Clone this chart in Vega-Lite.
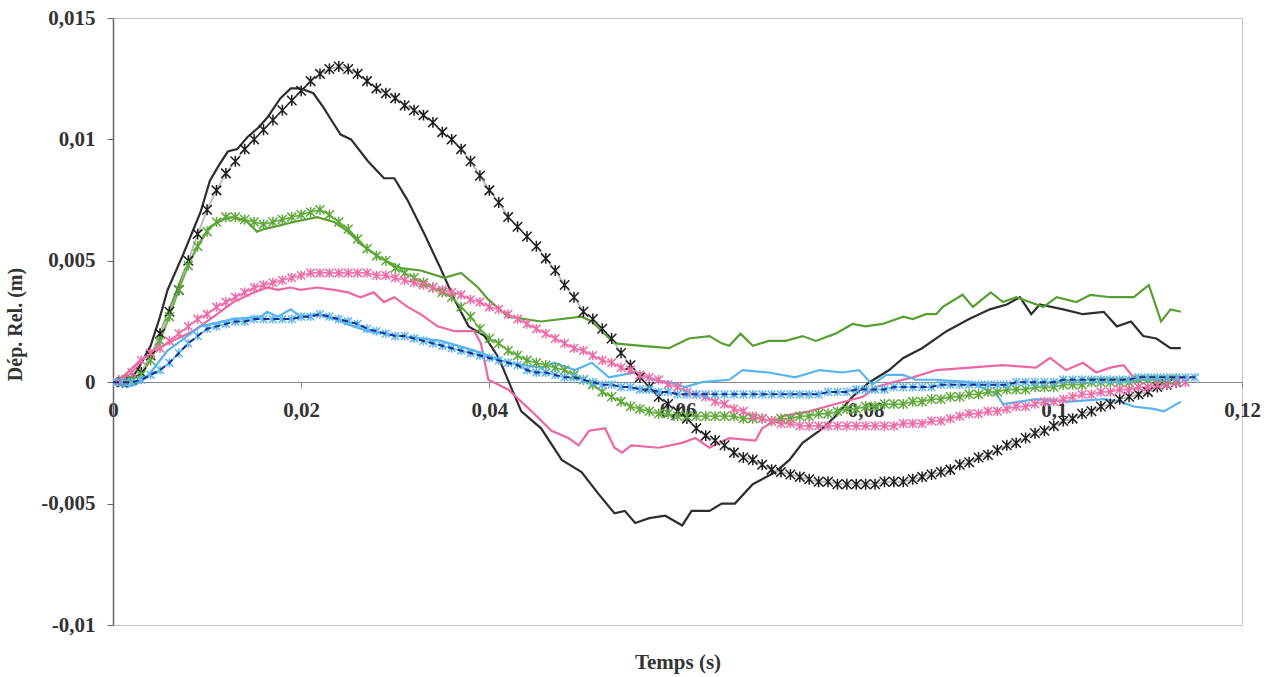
{
"$schema": "https://vega.github.io/schema/vega-lite/v6.json",
"width": 1129, "height": 607,
"autosize": {"type": "none"},
"padding": {"left": 113, "top": 18, "right": 38, "bottom": 52},
"background": "white",
"config": {
 "font": "Liberation Serif",
 "view": {"stroke": "#c4c4c4", "strokeWidth": 1},
 "axis": {"labelFont": "Liberation Serif", "labelFontWeight": "bold", "labelFontSize": 21, "labelColor": "#333", "titleFont": "Liberation Serif", "titleFontWeight": "bold", "titleFontSize": 21, "titleColor": "#333", "grid": false}
},
"datasets": {
"exp": [
{"s":"noir","t":0,"v":0},{"s":"noir","t":0.001,"v":0.0001},{"s":"noir","t":0.002,"v":0.0002},{"s":"noir","t":0.0026,"v":0.0005},{"s":"noir","t":0.0033,"v":0.001},{"s":"noir","t":0.004,"v":0.0015},{"s":"noir","t":0.005,"v":0.0027},{"s":"noir","t":0.0058,"v":0.0038},{"s":"noir","t":0.0075,"v":0.0053},{"s":"noir","t":0.0093,"v":0.007},{"s":"noir","t":0.0103,"v":0.0083},{"s":"noir","t":0.0112,"v":0.0089},{"s":"noir","t":0.0122,"v":0.0095},{"s":"noir","t":0.0132,"v":0.0096},{"s":"noir","t":0.0143,"v":0.0101},{"s":"noir","t":0.0155,"v":0.0105},{"s":"noir","t":0.0164,"v":0.0109},{"s":"noir","t":0.0178,"v":0.0117},{"s":"noir","t":0.0189,"v":0.0121},{"s":"noir","t":0.0199,"v":0.0121},{"s":"noir","t":0.0206,"v":0.012},{"s":"noir","t":0.0213,"v":0.0119},{"s":"noir","t":0.0224,"v":0.0113},{"s":"noir","t":0.0232,"v":0.0108},{"s":"noir","t":0.0242,"v":0.0102},{"s":"noir","t":0.0253,"v":0.01},{"s":"noir","t":0.0271,"v":0.0091},{"s":"noir","t":0.0288,"v":0.0084},{"s":"noir","t":0.0299,"v":0.0084},{"s":"noir","t":0.0313,"v":0.0075},{"s":"noir","t":0.0331,"v":0.0061},{"s":"noir","t":0.0348,"v":0.0047},{"s":"noir","t":0.0363,"v":0.0034},{"s":"noir","t":0.0378,"v":0.0023},{"s":"noir","t":0.0395,"v":0.0019},{"s":"noir","t":0.041,"v":0.001},{"s":"noir","t":0.0423,"v":-0.0002},{"s":"noir","t":0.0434,"v":-0.0012},{"s":"noir","t":0.0455,"v":-0.0019},{"s":"noir","t":0.0477,"v":-0.0032},{"s":"noir","t":0.0498,"v":-0.0037},{"s":"noir","t":0.0516,"v":-0.0046},{"s":"noir","t":0.0533,"v":-0.0054},{"s":"noir","t":0.0544,"v":-0.0053},{"s":"noir","t":0.0555,"v":-0.0058},{"s":"noir","t":0.057,"v":-0.0056},{"s":"noir","t":0.0587,"v":-0.0055},{"s":"noir","t":0.0605,"v":-0.0059},{"s":"noir","t":0.0615,"v":-0.0053},{"s":"noir","t":0.0634,"v":-0.0053},{"s":"noir","t":0.0647,"v":-0.005},{"s":"noir","t":0.0661,"v":-0.005},{"s":"noir","t":0.068,"v":-0.0042},{"s":"noir","t":0.0704,"v":-0.0037},{"s":"noir","t":0.0719,"v":-0.0032},{"s":"noir","t":0.0733,"v":-0.0025},{"s":"noir","t":0.0751,"v":-0.002},{"s":"noir","t":0.0768,"v":-0.0014},{"s":"noir","t":0.0786,"v":-0.0006},{"s":"noir","t":0.0804,"v":0},{"s":"noir","t":0.0825,"v":0.0005},{"s":"noir","t":0.084,"v":0.001},{"s":"noir","t":0.086,"v":0.0014},{"s":"noir","t":0.0886,"v":0.0021},{"s":"noir","t":0.091,"v":0.0026},{"s":"noir","t":0.0932,"v":0.003},{"s":"noir","t":0.095,"v":0.0032},{"s":"noir","t":0.0964,"v":0.0035},{"s":"noir","t":0.0976,"v":0.0028},{"s":"noir","t":0.0985,"v":0.0032},{"s":"noir","t":0.101,"v":0.003},{"s":"noir","t":0.1031,"v":0.0028},{"s":"noir","t":0.1053,"v":0.0029},{"s":"noir","t":0.1067,"v":0.0023},{"s":"noir","t":0.1082,"v":0.0025},{"s":"noir","t":0.1095,"v":0.0019},{"s":"noir","t":0.1109,"v":0.0018},{"s":"noir","t":0.1124,"v":0.0014},{"s":"noir","t":0.1135,"v":0.0014},
{"s":"vert","t":0,"v":0},{"s":"vert","t":0.001,"v":0.0001},{"s":"vert","t":0.002,"v":0.0002},{"s":"vert","t":0.003,"v":0.0003},{"s":"vert","t":0.004,"v":0.001},{"s":"vert","t":0.0058,"v":0.0028},{"s":"vert","t":0.0075,"v":0.0045},{"s":"vert","t":0.0086,"v":0.0053},{"s":"vert","t":0.0093,"v":0.0058},{"s":"vert","t":0.0103,"v":0.0064},{"s":"vert","t":0.0117,"v":0.0067},{"s":"vert","t":0.0128,"v":0.0068},{"s":"vert","t":0.0143,"v":0.0066},{"s":"vert","t":0.0153,"v":0.0062},{"s":"vert","t":0.016,"v":0.0063},{"s":"vert","t":0.0171,"v":0.0064},{"s":"vert","t":0.0192,"v":0.0066},{"s":"vert","t":0.0217,"v":0.0068},{"s":"vert","t":0.0235,"v":0.0066},{"s":"vert","t":0.025,"v":0.0062},{"s":"vert","t":0.0263,"v":0.0057},{"s":"vert","t":0.0285,"v":0.0051},{"s":"vert","t":0.0306,"v":0.0047},{"s":"vert","t":0.0327,"v":0.0046},{"s":"vert","t":0.0352,"v":0.0043},{"s":"vert","t":0.037,"v":0.0045},{"s":"vert","t":0.0388,"v":0.0039},{"s":"vert","t":0.0399,"v":0.0034},{"s":"vert","t":0.042,"v":0.0027},{"s":"vert","t":0.0455,"v":0.0025},{"s":"vert","t":0.0498,"v":0.0027},{"s":"vert","t":0.0509,"v":0.0025},{"s":"vert","t":0.0533,"v":0.0016},{"s":"vert","t":0.0562,"v":0.0015},{"s":"vert","t":0.0591,"v":0.0014},{"s":"vert","t":0.0612,"v":0.0018},{"s":"vert","t":0.0634,"v":0.0019},{"s":"vert","t":0.0647,"v":0.0016},{"s":"vert","t":0.0655,"v":0.0015},{"s":"vert","t":0.0667,"v":0.002},{"s":"vert","t":0.068,"v":0.0015},{"s":"vert","t":0.0697,"v":0.0017},{"s":"vert","t":0.0715,"v":0.0017},{"s":"vert","t":0.0733,"v":0.0019},{"s":"vert","t":0.0747,"v":0.0017},{"s":"vert","t":0.0768,"v":0.002},{"s":"vert","t":0.0786,"v":0.0024},{"s":"vert","t":0.08,"v":0.0023},{"s":"vert","t":0.0818,"v":0.0024},{"s":"vert","t":0.084,"v":0.0027},{"s":"vert","t":0.085,"v":0.0026},{"s":"vert","t":0.0864,"v":0.0028},{"s":"vert","t":0.0875,"v":0.0028},{"s":"vert","t":0.0882,"v":0.0031},{"s":"vert","t":0.0903,"v":0.0036},{"s":"vert","t":0.0914,"v":0.0031},{"s":"vert","t":0.0933,"v":0.0037},{"s":"vert","t":0.0946,"v":0.0033},{"s":"vert","t":0.096,"v":0.0035},{"s":"vert","t":0.0989,"v":0.0031},{"s":"vert","t":0.1003,"v":0.0035},{"s":"vert","t":0.1024,"v":0.0033},{"s":"vert","t":0.1039,"v":0.0036},{"s":"vert","t":0.106,"v":0.0035},{"s":"vert","t":0.1085,"v":0.0035},{"s":"vert","t":0.1101,"v":0.004},{"s":"vert","t":0.1114,"v":0.0025},{"s":"vert","t":0.1124,"v":0.003},{"s":"vert","t":0.1135,"v":0.0029},
{"s":"rose","t":0,"v":0},{"s":"rose","t":0.001,"v":0.0002},{"s":"rose","t":0.0029,"v":0.0009},{"s":"rose","t":0.0058,"v":0.0016},{"s":"rose","t":0.0085,"v":0.0021},{"s":"rose","t":0.0107,"v":0.0027},{"s":"rose","t":0.0128,"v":0.0033},{"s":"rose","t":0.015,"v":0.0037},{"s":"rose","t":0.0164,"v":0.0039},{"s":"rose","t":0.0175,"v":0.0038},{"s":"rose","t":0.0189,"v":0.0039},{"s":"rose","t":0.0199,"v":0.0038},{"s":"rose","t":0.0217,"v":0.0039},{"s":"rose","t":0.0235,"v":0.0038},{"s":"rose","t":0.025,"v":0.0037},{"s":"rose","t":0.0263,"v":0.0035},{"s":"rose","t":0.0277,"v":0.0037},{"s":"rose","t":0.0288,"v":0.0033},{"s":"rose","t":0.0299,"v":0.0035},{"s":"rose","t":0.0313,"v":0.0031},{"s":"rose","t":0.0327,"v":0.0028},{"s":"rose","t":0.0345,"v":0.0023},{"s":"rose","t":0.0363,"v":0.0021},{"s":"rose","t":0.0384,"v":0.0021},{"s":"rose","t":0.0391,"v":0.0016},{"s":"rose","t":0.0399,"v":0.0001},{"s":"rose","t":0.042,"v":-0.0003},{"s":"rose","t":0.0445,"v":-0.0012},{"s":"rose","t":0.0466,"v":-0.002},{"s":"rose","t":0.0484,"v":-0.0023},{"s":"rose","t":0.0495,"v":-0.0026},{"s":"rose","t":0.0506,"v":-0.002},{"s":"rose","t":0.0523,"v":-0.0019},{"s":"rose","t":0.0533,"v":-0.0027},{"s":"rose","t":0.0541,"v":-0.0029},{"s":"rose","t":0.0551,"v":-0.0026},{"s":"rose","t":0.058,"v":-0.0027},{"s":"rose","t":0.0605,"v":-0.0025},{"s":"rose","t":0.0619,"v":-0.0023},{"s":"rose","t":0.0634,"v":-0.0027},{"s":"rose","t":0.0644,"v":-0.0025},{"s":"rose","t":0.0655,"v":-0.0023},{"s":"rose","t":0.0683,"v":-0.0024},{"s":"rose","t":0.069,"v":-0.0019},{"s":"rose","t":0.0711,"v":-0.0014},{"s":"rose","t":0.074,"v":-0.0012},{"s":"rose","t":0.0768,"v":-0.0009},{"s":"rose","t":0.0797,"v":-0.0006},{"s":"rose","t":0.0811,"v":-0.0002},{"s":"rose","t":0.0829,"v":0},{"s":"rose","t":0.085,"v":0.0002},{"s":"rose","t":0.0875,"v":0.0005},{"s":"rose","t":0.0911,"v":0.0006},{"s":"rose","t":0.0946,"v":0.0007},{"s":"rose","t":0.0981,"v":0.0006},{"s":"rose","t":0.0996,"v":0.001},{"s":"rose","t":0.1013,"v":0.0005},{"s":"rose","t":0.1031,"v":0.0008},{"s":"rose","t":0.1045,"v":0.0004},{"s":"rose","t":0.106,"v":0.0006},{"s":"rose","t":0.1074,"v":0.0007},{"s":"rose","t":0.1085,"v":0.0002},
{"s":"bleu","t":0,"v":0},{"s":"bleu","t":0.0015,"v":-0.0002},{"s":"bleu","t":0.0029,"v":0},{"s":"bleu","t":0.004,"v":0.0004},{"s":"bleu","t":0.0058,"v":0.0013},{"s":"bleu","t":0.0079,"v":0.0019},{"s":"bleu","t":0.0093,"v":0.0023},{"s":"bleu","t":0.0128,"v":0.0026},{"s":"bleu","t":0.0157,"v":0.0027},{"s":"bleu","t":0.0164,"v":0.0029},{"s":"bleu","t":0.0175,"v":0.0027},{"s":"bleu","t":0.0189,"v":0.003},{"s":"bleu","t":0.0199,"v":0.0027},{"s":"bleu","t":0.0217,"v":0.0028},{"s":"bleu","t":0.0235,"v":0.0026},{"s":"bleu","t":0.0256,"v":0.0023},{"s":"bleu","t":0.0271,"v":0.0021},{"s":"bleu","t":0.0306,"v":0.0019},{"s":"bleu","t":0.0349,"v":0.0017},{"s":"bleu","t":0.0384,"v":0.0013},{"s":"bleu","t":0.042,"v":0.0008},{"s":"bleu","t":0.0455,"v":0.0006},{"s":"bleu","t":0.0469,"v":0.0008},{"s":"bleu","t":0.0491,"v":0.0005},{"s":"bleu","t":0.0509,"v":0.0008},{"s":"bleu","t":0.0527,"v":0.0002},{"s":"bleu","t":0.0541,"v":0.0003},{"s":"bleu","t":0.0555,"v":0.0004},{"s":"bleu","t":0.0573,"v":0.0001},{"s":"bleu","t":0.059,"v":0},{"s":"bleu","t":0.0608,"v":-0.0002},{"s":"bleu","t":0.0626,"v":0},{"s":"bleu","t":0.0655,"v":0.0001},{"s":"bleu","t":0.0669,"v":0.0005},{"s":"bleu","t":0.0697,"v":0.0004},{"s":"bleu","t":0.0725,"v":0.0002},{"s":"bleu","t":0.0751,"v":0.0005},{"s":"bleu","t":0.0775,"v":0.0004},{"s":"bleu","t":0.0793,"v":0.0005},{"s":"bleu","t":0.0807,"v":-0.0001},{"s":"bleu","t":0.0822,"v":0.0003},{"s":"bleu","t":0.084,"v":0.0003},{"s":"bleu","t":0.0853,"v":0.0001},{"s":"bleu","t":0.0875,"v":0.0001},{"s":"bleu","t":0.0911,"v":0},{"s":"bleu","t":0.0939,"v":-0.0005},{"s":"bleu","t":0.0946,"v":-0.0009},{"s":"bleu","t":0.0981,"v":-0.0007},{"s":"bleu","t":0.1017,"v":-0.0008},{"s":"bleu","t":0.1053,"v":-0.0007},{"s":"bleu","t":0.107,"v":-0.0008},{"s":"bleu","t":0.1085,"v":-0.001},{"s":"bleu","t":0.1106,"v":-0.0011},{"s":"bleu","t":0.1117,"v":-0.0012},{"s":"bleu","t":0.1135,"v":-0.0008}
],
"mod": [
{"s":"noir","t":0,"v":0},{"s":"noir","t":0.001,"v":0},{"s":"noir","t":0.002,"v":0.0001},{"s":"noir","t":0.003,"v":0.0004},{"s":"noir","t":0.004,"v":0.0011},{"s":"noir","t":0.005,"v":0.002},{"s":"noir","t":0.006,"v":0.0029},{"s":"noir","t":0.007,"v":0.0038},{"s":"noir","t":0.008,"v":0.005},{"s":"noir","t":0.009,"v":0.0061},{"s":"noir","t":0.01,"v":0.0071},{"s":"noir","t":0.011,"v":0.0079},{"s":"noir","t":0.012,"v":0.0086},{"s":"noir","t":0.013,"v":0.0091},{"s":"noir","t":0.014,"v":0.0096},{"s":"noir","t":0.015,"v":0.01},{"s":"noir","t":0.016,"v":0.0104},{"s":"noir","t":0.017,"v":0.0108},{"s":"noir","t":0.018,"v":0.0112},{"s":"noir","t":0.019,"v":0.0116},{"s":"noir","t":0.02,"v":0.012},{"s":"noir","t":0.021,"v":0.0124},{"s":"noir","t":0.022,"v":0.0127},{"s":"noir","t":0.023,"v":0.0129},{"s":"noir","t":0.024,"v":0.013},{"s":"noir","t":0.025,"v":0.0129},{"s":"noir","t":0.026,"v":0.0127},{"s":"noir","t":0.027,"v":0.0124},{"s":"noir","t":0.028,"v":0.0121},{"s":"noir","t":0.029,"v":0.0119},{"s":"noir","t":0.03,"v":0.0117},{"s":"noir","t":0.031,"v":0.0114},{"s":"noir","t":0.032,"v":0.0112},{"s":"noir","t":0.033,"v":0.011},{"s":"noir","t":0.034,"v":0.0107},{"s":"noir","t":0.035,"v":0.0103},{"s":"noir","t":0.036,"v":0.01},{"s":"noir","t":0.037,"v":0.0096},{"s":"noir","t":0.038,"v":0.0091},{"s":"noir","t":0.039,"v":0.0085},{"s":"noir","t":0.04,"v":0.0079},{"s":"noir","t":0.041,"v":0.0074},{"s":"noir","t":0.042,"v":0.0068},{"s":"noir","t":0.043,"v":0.0064},{"s":"noir","t":0.044,"v":0.006},{"s":"noir","t":0.045,"v":0.0056},{"s":"noir","t":0.046,"v":0.0051},{"s":"noir","t":0.047,"v":0.0046},{"s":"noir","t":0.048,"v":0.004},{"s":"noir","t":0.049,"v":0.0035},{"s":"noir","t":0.05,"v":0.0029},{"s":"noir","t":0.051,"v":0.0026},{"s":"noir","t":0.052,"v":0.0022},{"s":"noir","t":0.053,"v":0.0018},{"s":"noir","t":0.054,"v":0.0012},{"s":"noir","t":0.055,"v":0.0007},{"s":"noir","t":0.056,"v":0.0002},{"s":"noir","t":0.057,"v":-0.0002},{"s":"noir","t":0.058,"v":-0.0006},{"s":"noir","t":0.059,"v":-0.0009},{"s":"noir","t":0.06,"v":-0.0012},{"s":"noir","t":0.061,"v":-0.0015},{"s":"noir","t":0.062,"v":-0.0019},{"s":"noir","t":0.063,"v":-0.0022},{"s":"noir","t":0.064,"v":-0.0024},{"s":"noir","t":0.065,"v":-0.0026},{"s":"noir","t":0.066,"v":-0.0029},{"s":"noir","t":0.067,"v":-0.0031},{"s":"noir","t":0.068,"v":-0.0032},{"s":"noir","t":0.069,"v":-0.0034},{"s":"noir","t":0.07,"v":-0.0036},{"s":"noir","t":0.071,"v":-0.0037},{"s":"noir","t":0.072,"v":-0.0038},{"s":"noir","t":0.073,"v":-0.0039},{"s":"noir","t":0.074,"v":-0.004},{"s":"noir","t":0.075,"v":-0.0041},{"s":"noir","t":0.076,"v":-0.0041},{"s":"noir","t":0.077,"v":-0.0042},{"s":"noir","t":0.078,"v":-0.0042},{"s":"noir","t":0.079,"v":-0.0042},{"s":"noir","t":0.08,"v":-0.0042},{"s":"noir","t":0.081,"v":-0.0042},{"s":"noir","t":0.082,"v":-0.0041},{"s":"noir","t":0.083,"v":-0.0041},{"s":"noir","t":0.084,"v":-0.0041},{"s":"noir","t":0.085,"v":-0.004},{"s":"noir","t":0.086,"v":-0.0039},{"s":"noir","t":0.087,"v":-0.0038},{"s":"noir","t":0.088,"v":-0.0037},{"s":"noir","t":0.089,"v":-0.0036},{"s":"noir","t":0.09,"v":-0.0034},{"s":"noir","t":0.091,"v":-0.0033},{"s":"noir","t":0.092,"v":-0.0031},{"s":"noir","t":0.093,"v":-0.003},{"s":"noir","t":0.094,"v":-0.0028},{"s":"noir","t":0.095,"v":-0.0026},{"s":"noir","t":0.096,"v":-0.0025},{"s":"noir","t":0.097,"v":-0.0023},{"s":"noir","t":0.098,"v":-0.0021},{"s":"noir","t":0.099,"v":-0.002},{"s":"noir","t":0.1,"v":-0.0018},{"s":"noir","t":0.101,"v":-0.0016},{"s":"noir","t":0.102,"v":-0.0015},{"s":"noir","t":0.103,"v":-0.0013},{"s":"noir","t":0.104,"v":-0.0012},{"s":"noir","t":0.105,"v":-0.001},{"s":"noir","t":0.106,"v":-0.0009},{"s":"noir","t":0.107,"v":-0.0007},{"s":"noir","t":0.108,"v":-0.0006},{"s":"noir","t":0.109,"v":-0.0005},{"s":"noir","t":0.11,"v":-0.0004},{"s":"noir","t":0.111,"v":-0.0002},{"s":"noir","t":0.112,"v":-0.0001},{"s":"noir","t":0.113,"v":0},
{"s":"vert","t":0,"v":0},{"s":"vert","t":0.001,"v":0.0001},{"s":"vert","t":0.002,"v":0.0001},{"s":"vert","t":0.003,"v":0.0003},{"s":"vert","t":0.004,"v":0.0009},{"s":"vert","t":0.005,"v":0.0017},{"s":"vert","t":0.006,"v":0.0027},{"s":"vert","t":0.007,"v":0.0038},{"s":"vert","t":0.008,"v":0.0048},{"s":"vert","t":0.009,"v":0.0056},{"s":"vert","t":0.01,"v":0.0062},{"s":"vert","t":0.011,"v":0.0066},{"s":"vert","t":0.012,"v":0.0068},{"s":"vert","t":0.013,"v":0.0068},{"s":"vert","t":0.014,"v":0.0067},{"s":"vert","t":0.015,"v":0.0066},{"s":"vert","t":0.016,"v":0.0065},{"s":"vert","t":0.017,"v":0.0066},{"s":"vert","t":0.018,"v":0.0067},{"s":"vert","t":0.019,"v":0.0068},{"s":"vert","t":0.02,"v":0.0069},{"s":"vert","t":0.021,"v":0.007},{"s":"vert","t":0.022,"v":0.0071},{"s":"vert","t":0.023,"v":0.0069},{"s":"vert","t":0.024,"v":0.0066},{"s":"vert","t":0.025,"v":0.0063},{"s":"vert","t":0.026,"v":0.0059},{"s":"vert","t":0.027,"v":0.0055},{"s":"vert","t":0.028,"v":0.0052},{"s":"vert","t":0.029,"v":0.005},{"s":"vert","t":0.03,"v":0.0047},{"s":"vert","t":0.031,"v":0.0045},{"s":"vert","t":0.032,"v":0.0043},{"s":"vert","t":0.033,"v":0.0041},{"s":"vert","t":0.034,"v":0.0039},{"s":"vert","t":0.035,"v":0.0037},{"s":"vert","t":0.036,"v":0.0035},{"s":"vert","t":0.037,"v":0.0031},{"s":"vert","t":0.038,"v":0.0027},{"s":"vert","t":0.039,"v":0.0022},{"s":"vert","t":0.04,"v":0.0018},{"s":"vert","t":0.041,"v":0.0016},{"s":"vert","t":0.042,"v":0.0013},{"s":"vert","t":0.043,"v":0.0011},{"s":"vert","t":0.044,"v":0.0009},{"s":"vert","t":0.045,"v":0.0008},{"s":"vert","t":0.046,"v":0.0007},{"s":"vert","t":0.047,"v":0.0006},{"s":"vert","t":0.048,"v":0.0005},{"s":"vert","t":0.049,"v":0.0003},{"s":"vert","t":0.05,"v":0.0001},{"s":"vert","t":0.051,"v":-0.0001},{"s":"vert","t":0.052,"v":-0.0004},{"s":"vert","t":0.053,"v":-0.0006},{"s":"vert","t":0.054,"v":-0.0008},{"s":"vert","t":0.055,"v":-0.001},{"s":"vert","t":0.056,"v":-0.0011},{"s":"vert","t":0.057,"v":-0.0012},{"s":"vert","t":0.058,"v":-0.0013},{"s":"vert","t":0.059,"v":-0.0013},{"s":"vert","t":0.06,"v":-0.0014},{"s":"vert","t":0.061,"v":-0.0014},{"s":"vert","t":0.062,"v":-0.0014},{"s":"vert","t":0.063,"v":-0.0014},{"s":"vert","t":0.064,"v":-0.0014},{"s":"vert","t":0.065,"v":-0.0014},{"s":"vert","t":0.066,"v":-0.0014},{"s":"vert","t":0.067,"v":-0.0015},{"s":"vert","t":0.068,"v":-0.0015},{"s":"vert","t":0.069,"v":-0.0015},{"s":"vert","t":0.07,"v":-0.0016},{"s":"vert","t":0.071,"v":-0.0015},{"s":"vert","t":0.072,"v":-0.0015},{"s":"vert","t":0.073,"v":-0.0014},{"s":"vert","t":0.074,"v":-0.0014},{"s":"vert","t":0.075,"v":-0.0013},{"s":"vert","t":0.076,"v":-0.0013},{"s":"vert","t":0.077,"v":-0.0012},{"s":"vert","t":0.078,"v":-0.0011},{"s":"vert","t":0.079,"v":-0.0011},{"s":"vert","t":0.08,"v":-0.001},{"s":"vert","t":0.081,"v":-0.001},{"s":"vert","t":0.082,"v":-0.0009},{"s":"vert","t":0.083,"v":-0.0009},{"s":"vert","t":0.084,"v":-0.0009},{"s":"vert","t":0.085,"v":-0.0008},{"s":"vert","t":0.086,"v":-0.0008},{"s":"vert","t":0.087,"v":-0.0007},{"s":"vert","t":0.088,"v":-0.0007},{"s":"vert","t":0.089,"v":-0.0006},{"s":"vert","t":0.09,"v":-0.0006},{"s":"vert","t":0.091,"v":-0.0005},{"s":"vert","t":0.092,"v":-0.0005},{"s":"vert","t":0.093,"v":-0.0004},{"s":"vert","t":0.094,"v":-0.0004},{"s":"vert","t":0.095,"v":-0.0003},{"s":"vert","t":0.096,"v":-0.0003},{"s":"vert","t":0.097,"v":-0.0003},{"s":"vert","t":0.098,"v":-0.0002},{"s":"vert","t":0.099,"v":-0.0002},{"s":"vert","t":0.1,"v":-0.0002},{"s":"vert","t":0.101,"v":-0.0001},{"s":"vert","t":0.102,"v":-0.0001},{"s":"vert","t":0.103,"v":-0.0001},{"s":"vert","t":0.104,"v":0},{"s":"vert","t":0.105,"v":0},{"s":"vert","t":0.106,"v":0},{"s":"vert","t":0.107,"v":0},{"s":"vert","t":0.108,"v":0},{"s":"vert","t":0.109,"v":0.0001},{"s":"vert","t":0.11,"v":0.0001},{"s":"vert","t":0.111,"v":0.0001},{"s":"vert","t":0.112,"v":0.0001},{"s":"vert","t":0.113,"v":0.0001},
{"s":"rose","t":0,"v":0},{"s":"rose","t":0.001,"v":0.0001},{"s":"rose","t":0.002,"v":0.0004},{"s":"rose","t":0.003,"v":0.0009},{"s":"rose","t":0.004,"v":0.0012},{"s":"rose","t":0.005,"v":0.0014},{"s":"rose","t":0.006,"v":0.0017},{"s":"rose","t":0.007,"v":0.002},{"s":"rose","t":0.008,"v":0.0023},{"s":"rose","t":0.009,"v":0.0026},{"s":"rose","t":0.01,"v":0.0028},{"s":"rose","t":0.011,"v":0.0031},{"s":"rose","t":0.012,"v":0.0033},{"s":"rose","t":0.013,"v":0.0035},{"s":"rose","t":0.014,"v":0.0037},{"s":"rose","t":0.015,"v":0.0039},{"s":"rose","t":0.016,"v":0.004},{"s":"rose","t":0.017,"v":0.0041},{"s":"rose","t":0.018,"v":0.0042},{"s":"rose","t":0.019,"v":0.0043},{"s":"rose","t":0.02,"v":0.0044},{"s":"rose","t":0.021,"v":0.0045},{"s":"rose","t":0.022,"v":0.0045},{"s":"rose","t":0.023,"v":0.0045},{"s":"rose","t":0.024,"v":0.0045},{"s":"rose","t":0.025,"v":0.0045},{"s":"rose","t":0.026,"v":0.0045},{"s":"rose","t":0.027,"v":0.0045},{"s":"rose","t":0.028,"v":0.0044},{"s":"rose","t":0.029,"v":0.0044},{"s":"rose","t":0.03,"v":0.0043},{"s":"rose","t":0.031,"v":0.0042},{"s":"rose","t":0.032,"v":0.0041},{"s":"rose","t":0.033,"v":0.004},{"s":"rose","t":0.034,"v":0.0039},{"s":"rose","t":0.035,"v":0.0038},{"s":"rose","t":0.036,"v":0.0037},{"s":"rose","t":0.037,"v":0.0036},{"s":"rose","t":0.038,"v":0.0034},{"s":"rose","t":0.039,"v":0.0033},{"s":"rose","t":0.04,"v":0.0031},{"s":"rose","t":0.041,"v":0.003},{"s":"rose","t":0.042,"v":0.0028},{"s":"rose","t":0.043,"v":0.0026},{"s":"rose","t":0.044,"v":0.0024},{"s":"rose","t":0.045,"v":0.0022},{"s":"rose","t":0.046,"v":0.002},{"s":"rose","t":0.047,"v":0.0018},{"s":"rose","t":0.048,"v":0.0016},{"s":"rose","t":0.049,"v":0.0014},{"s":"rose","t":0.05,"v":0.0013},{"s":"rose","t":0.051,"v":0.0011},{"s":"rose","t":0.052,"v":0.0009},{"s":"rose","t":0.053,"v":0.0008},{"s":"rose","t":0.054,"v":0.0006},{"s":"rose","t":0.055,"v":0.0005},{"s":"rose","t":0.056,"v":0.0003},{"s":"rose","t":0.057,"v":0.0002},{"s":"rose","t":0.058,"v":0.0001},{"s":"rose","t":0.059,"v":-0.0001},{"s":"rose","t":0.06,"v":-0.0002},{"s":"rose","t":0.061,"v":-0.0004},{"s":"rose","t":0.062,"v":-0.0005},{"s":"rose","t":0.063,"v":-0.0006},{"s":"rose","t":0.064,"v":-0.0008},{"s":"rose","t":0.065,"v":-0.0009},{"s":"rose","t":0.066,"v":-0.0011},{"s":"rose","t":0.067,"v":-0.0012},{"s":"rose","t":0.068,"v":-0.0014},{"s":"rose","t":0.069,"v":-0.0015},{"s":"rose","t":0.07,"v":-0.0016},{"s":"rose","t":0.071,"v":-0.0017},{"s":"rose","t":0.072,"v":-0.0017},{"s":"rose","t":0.073,"v":-0.0018},{"s":"rose","t":0.074,"v":-0.0018},{"s":"rose","t":0.075,"v":-0.0018},{"s":"rose","t":0.076,"v":-0.0018},{"s":"rose","t":0.077,"v":-0.0018},{"s":"rose","t":0.078,"v":-0.0018},{"s":"rose","t":0.079,"v":-0.0018},{"s":"rose","t":0.08,"v":-0.0018},{"s":"rose","t":0.081,"v":-0.0018},{"s":"rose","t":0.082,"v":-0.0018},{"s":"rose","t":0.083,"v":-0.0018},{"s":"rose","t":0.084,"v":-0.0017},{"s":"rose","t":0.085,"v":-0.0017},{"s":"rose","t":0.086,"v":-0.0017},{"s":"rose","t":0.087,"v":-0.0016},{"s":"rose","t":0.088,"v":-0.0016},{"s":"rose","t":0.089,"v":-0.0015},{"s":"rose","t":0.09,"v":-0.0014},{"s":"rose","t":0.091,"v":-0.0013},{"s":"rose","t":0.092,"v":-0.0013},{"s":"rose","t":0.093,"v":-0.0012},{"s":"rose","t":0.094,"v":-0.0012},{"s":"rose","t":0.095,"v":-0.0011},{"s":"rose","t":0.096,"v":-0.001},{"s":"rose","t":0.097,"v":-0.001},{"s":"rose","t":0.098,"v":-0.0009},{"s":"rose","t":0.099,"v":-0.0008},{"s":"rose","t":0.1,"v":-0.0008},{"s":"rose","t":0.101,"v":-0.0007},{"s":"rose","t":0.102,"v":-0.0006},{"s":"rose","t":0.103,"v":-0.0005},{"s":"rose","t":0.104,"v":-0.0005},{"s":"rose","t":0.105,"v":-0.0004},{"s":"rose","t":0.106,"v":-0.0004},{"s":"rose","t":0.107,"v":-0.0003},{"s":"rose","t":0.108,"v":-0.0003},{"s":"rose","t":0.109,"v":-0.0002},{"s":"rose","t":0.11,"v":-0.0002},{"s":"rose","t":0.111,"v":-0.0001},{"s":"rose","t":0.112,"v":-0.0001},{"s":"rose","t":0.113,"v":0},{"s":"rose","t":0.114,"v":0},
{"s":"bleu","t":0,"v":0},{"s":"bleu","t":0.001,"v":0},{"s":"bleu","t":0.002,"v":0},{"s":"bleu","t":0.003,"v":0.0001},{"s":"bleu","t":0.004,"v":0.0003},{"s":"bleu","t":0.005,"v":0.0005},{"s":"bleu","t":0.006,"v":0.0008},{"s":"bleu","t":0.007,"v":0.0012},{"s":"bleu","t":0.008,"v":0.0016},{"s":"bleu","t":0.009,"v":0.0019},{"s":"bleu","t":0.01,"v":0.0022},{"s":"bleu","t":0.011,"v":0.0023},{"s":"bleu","t":0.012,"v":0.0024},{"s":"bleu","t":0.013,"v":0.0025},{"s":"bleu","t":0.014,"v":0.0025},{"s":"bleu","t":0.015,"v":0.0026},{"s":"bleu","t":0.016,"v":0.0026},{"s":"bleu","t":0.017,"v":0.0026},{"s":"bleu","t":0.018,"v":0.0026},{"s":"bleu","t":0.019,"v":0.0026},{"s":"bleu","t":0.02,"v":0.0027},{"s":"bleu","t":0.021,"v":0.0027},{"s":"bleu","t":0.022,"v":0.0028},{"s":"bleu","t":0.023,"v":0.0027},{"s":"bleu","t":0.024,"v":0.0026},{"s":"bleu","t":0.025,"v":0.0025},{"s":"bleu","t":0.026,"v":0.0024},{"s":"bleu","t":0.027,"v":0.0022},{"s":"bleu","t":0.028,"v":0.0021},{"s":"bleu","t":0.029,"v":0.002},{"s":"bleu","t":0.03,"v":0.0019},{"s":"bleu","t":0.031,"v":0.0019},{"s":"bleu","t":0.032,"v":0.0018},{"s":"bleu","t":0.033,"v":0.0017},{"s":"bleu","t":0.034,"v":0.0016},{"s":"bleu","t":0.035,"v":0.0015},{"s":"bleu","t":0.036,"v":0.0014},{"s":"bleu","t":0.037,"v":0.0013},{"s":"bleu","t":0.038,"v":0.0012},{"s":"bleu","t":0.039,"v":0.0011},{"s":"bleu","t":0.04,"v":0.001},{"s":"bleu","t":0.041,"v":0.0009},{"s":"bleu","t":0.042,"v":0.0008},{"s":"bleu","t":0.043,"v":0.0007},{"s":"bleu","t":0.044,"v":0.0005},{"s":"bleu","t":0.045,"v":0.0004},{"s":"bleu","t":0.046,"v":0.0004},{"s":"bleu","t":0.047,"v":0.0003},{"s":"bleu","t":0.048,"v":0.0002},{"s":"bleu","t":0.049,"v":0.0002},{"s":"bleu","t":0.05,"v":0.0001},{"s":"bleu","t":0.051,"v":0},{"s":"bleu","t":0.052,"v":-0.0001},{"s":"bleu","t":0.053,"v":-0.0001},{"s":"bleu","t":0.054,"v":-0.0002},{"s":"bleu","t":0.055,"v":-0.0002},{"s":"bleu","t":0.056,"v":-0.0003},{"s":"bleu","t":0.057,"v":-0.0003},{"s":"bleu","t":0.058,"v":-0.0004},{"s":"bleu","t":0.059,"v":-0.0004},{"s":"bleu","t":0.06,"v":-0.0005},{"s":"bleu","t":0.061,"v":-0.0005},{"s":"bleu","t":0.062,"v":-0.0005},{"s":"bleu","t":0.063,"v":-0.0005},{"s":"bleu","t":0.064,"v":-0.0005},{"s":"bleu","t":0.065,"v":-0.0005},{"s":"bleu","t":0.066,"v":-0.0005},{"s":"bleu","t":0.067,"v":-0.0005},{"s":"bleu","t":0.068,"v":-0.0005},{"s":"bleu","t":0.069,"v":-0.0005},{"s":"bleu","t":0.07,"v":-0.0005},{"s":"bleu","t":0.071,"v":-0.0005},{"s":"bleu","t":0.072,"v":-0.0005},{"s":"bleu","t":0.073,"v":-0.0005},{"s":"bleu","t":0.074,"v":-0.0005},{"s":"bleu","t":0.075,"v":-0.0005},{"s":"bleu","t":0.076,"v":-0.0004},{"s":"bleu","t":0.077,"v":-0.0004},{"s":"bleu","t":0.078,"v":-0.0004},{"s":"bleu","t":0.079,"v":-0.0003},{"s":"bleu","t":0.08,"v":-0.0003},{"s":"bleu","t":0.081,"v":-0.0003},{"s":"bleu","t":0.082,"v":-0.0003},{"s":"bleu","t":0.083,"v":-0.0002},{"s":"bleu","t":0.084,"v":-0.0002},{"s":"bleu","t":0.085,"v":-0.0002},{"s":"bleu","t":0.086,"v":-0.0002},{"s":"bleu","t":0.087,"v":-0.0002},{"s":"bleu","t":0.088,"v":-0.0001},{"s":"bleu","t":0.089,"v":-0.0001},{"s":"bleu","t":0.09,"v":-0.0001},{"s":"bleu","t":0.091,"v":-0.0001},{"s":"bleu","t":0.092,"v":-0.0001},{"s":"bleu","t":0.093,"v":-0.0001},{"s":"bleu","t":0.094,"v":-0.0001},{"s":"bleu","t":0.095,"v":-0.0001},{"s":"bleu","t":0.096,"v":0},{"s":"bleu","t":0.097,"v":0},{"s":"bleu","t":0.098,"v":0},{"s":"bleu","t":0.099,"v":0},{"s":"bleu","t":0.1,"v":0},{"s":"bleu","t":0.101,"v":0.0001},{"s":"bleu","t":0.102,"v":0.0001},{"s":"bleu","t":0.103,"v":0.0001},{"s":"bleu","t":0.104,"v":0.0001},{"s":"bleu","t":0.105,"v":0.0001},{"s":"bleu","t":0.106,"v":0.0001},{"s":"bleu","t":0.107,"v":0.0001},{"s":"bleu","t":0.108,"v":0.0001},{"s":"bleu","t":0.109,"v":0.0002},{"s":"bleu","t":0.11,"v":0.0002},{"s":"bleu","t":0.111,"v":0.0002},{"s":"bleu","t":0.112,"v":0.0002},{"s":"bleu","t":0.113,"v":0.0002},{"s":"bleu","t":0.114,"v":0.0002},{"s":"bleu","t":0.115,"v":0.0002}
]
},
"encoding": {
 "x": {"field": "t", "type": "quantitative", "scale": {"domain": [0, 0.12], "nice": false, "zero": false},
  "axis": {"values": [0, 0.02, 0.04, 0.06, 0.08, 0.1, 0.12], "labelExpr": "replace(toString(datum.value), '.', ',')", "labelFlush": false, "offset": -243, "domainColor": "#8a8a8a", "domainWidth": 1.2, "tickColor": "#8a8a8a", "tickSize": 6, "labelPadding": 11, "title": "Temps (s)", "titleY": 286, "titleBaseline": "alphabetic"}},
 "y": {"field": "v", "type": "quantitative", "scale": {"domain": [-0.01, 0.015], "nice": false, "zero": false},
  "axis": {"values": [-0.01, -0.005, 0, 0.005, 0.01, 0.015], "labelExpr": "replace(toString(datum.value), '.', ',')", "labelFlush": false, "domainColor": "#666", "domainWidth": 1.5, "tickColor": "#666", "tickSize": 6, "labelPadding": 12, "title": "Dép. Rel. (m)", "titleFontSize": 20, "titleX": -98, "titleY": 306, "titleAngle": -90, "titleAlign": "center", "titleBaseline": "middle"}}
},
"layer": [
 {"data": {"name": "exp"}, "mark": {"type": "line", "strokeWidth": 2.2, "clip": true},
  "encoding": {"color": {"field": "s", "type": "nominal", "legend": null, "scale": {"domain": ["noir", "vert", "rose", "bleu"], "range": ["#2e2e2e", "#56a033", "#ec66a3", "#56b4ee"]}}, "detail": {"field": "s"}}},
 {"data": {"name": "mod"}, "mark": {"type": "line", "strokeWidth": 1.8, "clip": true},
  "encoding": {"color": {"field": "s", "type": "nominal", "legend": null, "scale": {"domain": ["noir", "vert", "rose", "bleu"], "range": ["#b8b8b8", "#6fb04a", "#f07bb0", "#6cbdf0"]}}, "detail": {"field": "s"}}},
 {"data": {"name": "mod"}, "mark": {"type": "point", "shape": "M-1,-1L1,1M-1,1L1,-1M0,-1.15L0,1.15", "filled": false, "strokeWidth": 1.5, "opacity": 1, "clip": true},
  "encoding": {"color": {"field": "s", "type": "nominal", "legend": null, "scale": {"domain": ["noir", "vert", "rose", "bleu"], "range": ["#1e1e1e", "#5ea83a", "#ee6aa6", "#5ab6ee"]}},
   "size": {"field": "s", "type": "nominal", "legend": null, "scale": {"domain": ["noir", "vert", "rose", "bleu"], "range": [90, 60, 60, 60]}}}},
 {"data": {"name": "mod"}, "transform": [{"filter": "datum.s === 'bleu'"}], "mark": {"type": "line", "strokeWidth": 2, "strokeDash": [6, 4], "color": "#1c2f8f", "clip": true}, "encoding": {}}
],
"resolve": {"scale": {"color": "independent", "size": "independent"}}
}
